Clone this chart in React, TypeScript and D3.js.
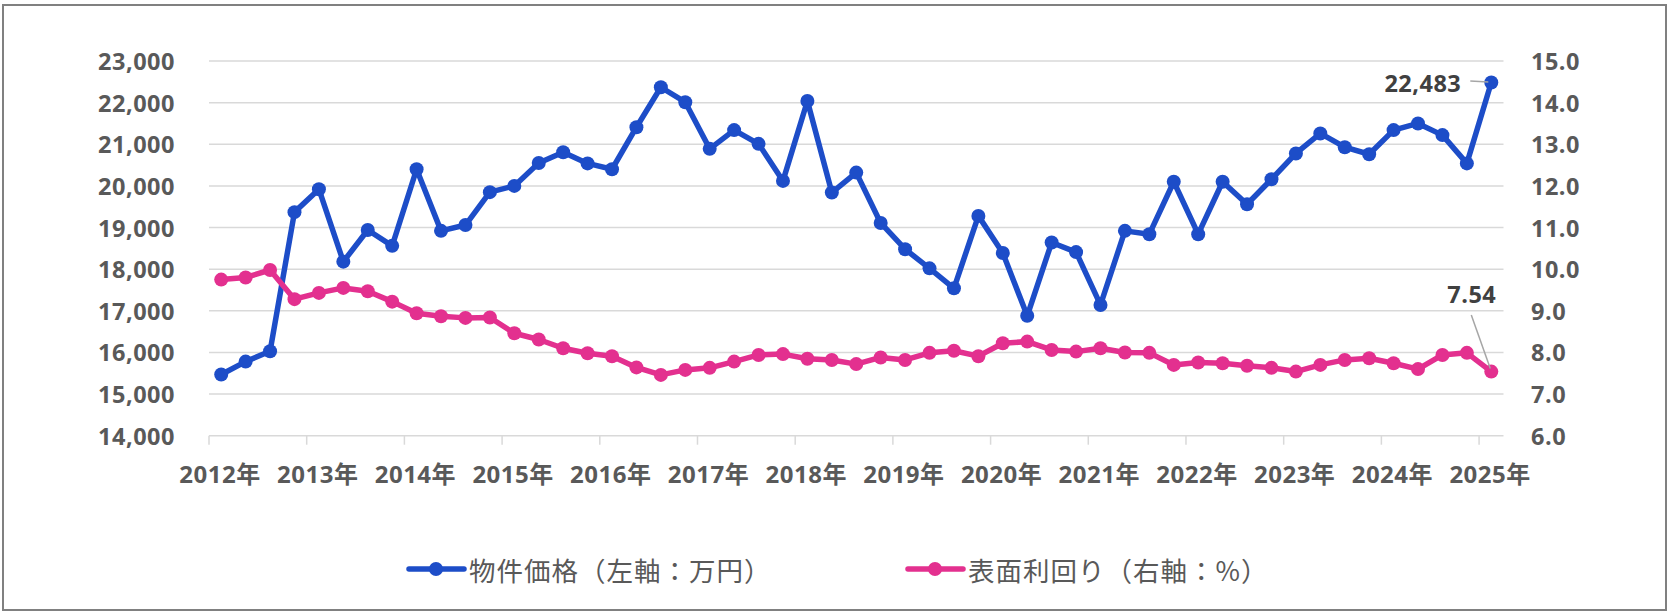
import React from "react";
import * as d3 from "d3";

const quarters = [
  "2012-02", "2012-05", "2012-08", "2012-11",
  "2013-02", "2013-05", "2013-08", "2013-11",
  "2014-02", "2014-05", "2014-08", "2014-11",
  "2015-02", "2015-05", "2015-08", "2015-11",
  "2016-02", "2016-05", "2016-08", "2016-11",
  "2017-02", "2017-05", "2017-08", "2017-11",
  "2018-02", "2018-05", "2018-08", "2018-11",
  "2019-02", "2019-05", "2019-08", "2019-11",
  "2020-02", "2020-05", "2020-08", "2020-11",
  "2021-02", "2021-05", "2021-08", "2021-11",
  "2022-02", "2022-05", "2022-08", "2022-11",
  "2023-02", "2023-05", "2023-08", "2023-11",
  "2024-02", "2024-05", "2024-08", "2024-11",
  "2025-02",
];

const priceValues = [
  15470, 15780, 16030, 19370, 19920, 18180, 18940, 18560, 20400, 18920,
  19060, 19850, 20000, 20550, 20810, 20540, 20400, 21410, 22370, 22010,
  20890, 21340, 21010, 20120, 22040, 19840, 20320, 19110, 18480, 18020,
  17540, 19280, 18390, 16880, 18640, 18410, 17140, 18920, 18840, 20100,
  18840, 20100, 19560, 20160, 20780, 21260, 20930, 20760, 21340, 21500,
  21220, 20540, 22483,
];

const yieldValues = [
  9.75, 9.8, 9.98, 9.28, 9.43, 9.55, 9.47, 9.22, 8.94, 8.87,
  8.83, 8.84, 8.46, 8.31, 8.1, 7.98, 7.91, 7.64, 7.46, 7.58,
  7.63, 7.78, 7.94, 7.96, 7.85, 7.82, 7.72, 7.88, 7.82, 7.99,
  8.04, 7.91, 8.22, 8.26, 8.06, 8.02, 8.1, 8.0, 7.99, 7.7,
  7.76, 7.74, 7.68, 7.63, 7.54, 7.7, 7.82, 7.86, 7.74, 7.6,
  7.94, 7.99, 7.54,
];

const yearTicks = [2012, 2013, 2014, 2015, 2016, 2017, 2018, 2019, 2020, 2021, 2022, 2023, 2024, 2025];
const leftTicks = [14000, 15000, 16000, 17000, 18000, 19000, 20000, 21000, 22000, 23000];
const rightTicks = [6, 7, 8, 9, 10, 11, 12, 13, 14, 15];
const seriesNames = ["物件価格（左軸：万円）", "表面利回り（右軸：%）"];
const seriesColors = ["#1D4DC8", "#E3308F"];

const W = 1670;
const H = 614;
const PLOT_L = 209;
const PLOT_R = 1503.5;
const PLOT_T = 61;
const PLOT_B = 435.7;

const AXIS_FONT = "'Open Sans', 'Noto Sans CJK JP', sans-serif";
const CJK_FONT = "'Noto Sans CJK JP', sans-serif";

export default function App() {
  const x = d3.scaleLinear().domain([2012, 2025.25]).range([PLOT_L, PLOT_R]);
  const yL = d3.scaleLinear().domain([14000, 23000]).range([PLOT_B, PLOT_T]);
  const yR = d3.scaleLinear().domain([6, 15]).range([PLOT_B, PLOT_T]);

  const xs = quarters.map((q) => {
    const [yy, mm] = q.split("-").map(Number);
    return yy + (mm - 0.5) / 12;
  });

  const priceLine = d3
    .line<number>()
    .x((_, i) => x(xs[i]))
    .y((d) => yL(d));
  const yieldLine = d3
    .line<number>()
    .x((_, i) => x(xs[i]))
    .y((d) => yR(d));

  const lastI = quarters.length - 1;
  const lastPx = x(xs[lastI]);
  const lastPriceY = yL(priceValues[lastI]);
  const lastYieldY = yR(yieldValues[lastI]);

  const fmtL = d3.format(",");
  const fmtR = d3.format(".1f");

  const labelStyle = {
    fontFamily: AXIS_FONT,
    fontWeight: 700,
    fontSize: 23.5,
    fill: "#595959",
    letterSpacing: "0.5px",
  } as React.CSSProperties;

  return (
    <svg
      width={W}
      height={H}
      style={{ position: "absolute", left: 0, top: 0, background: "#fff" }}
    >
      <rect x={0} y={0} width={W} height={H} fill="#fff" />
      <rect x={3} y={5} width={1663} height={605} fill="none" stroke="#808080" strokeWidth={2} />

      {/* gridlines */}
      {leftTicks.map((t) => (
        <line key={t} x1={PLOT_L} x2={PLOT_R} y1={yL(t)} y2={yL(t)} stroke="#D9D9D9" strokeWidth={1.5} />
      ))}
      {/* x tick marks */}
      {yearTicks.map((yr) => (
        <line key={yr} x1={x(yr)} x2={x(yr)} y1={PLOT_B} y2={PLOT_B + 9} stroke="#D9D9D9" strokeWidth={1.5} />
      ))}

      {/* left axis labels */}
      {leftTicks.map((t) => (
        <text key={t} x={175} y={yL(t)} textAnchor="end" dominantBaseline="central" style={labelStyle}>
          {fmtL(t)}
        </text>
      ))}
      {/* right axis labels */}
      {rightTicks.map((t) => (
        <text key={t} x={1531} y={yR(t)} textAnchor="start" dominantBaseline="central" style={labelStyle}>
          {fmtR(t)}
        </text>
      ))}
      {/* x labels */}
      {yearTicks.map((yr) => (
        <text key={yr} x={x(yr) + 11} y={473} textAnchor="middle" dominantBaseline="central" style={{ ...labelStyle, fontSize: 24 }}>
          {yr}年
        </text>
      ))}

      {/* price series */}
      <path d={priceLine(priceValues) || ""} fill="none" stroke={seriesColors[0]} strokeWidth={5.5} strokeLinejoin="round" />
      {priceValues.map((v, i) => (
        <circle key={i} cx={x(xs[i])} cy={yL(v)} r={7} fill={seriesColors[0]} />
      ))}

      {/* yield series */}
      <path d={yieldLine(yieldValues) || ""} fill="none" stroke={seriesColors[1]} strokeWidth={5.5} strokeLinejoin="round" />
      {yieldValues.map((v, i) => (
        <circle key={i} cx={x(xs[i])} cy={yR(v)} r={7} fill={seriesColors[1]} />
      ))}

      {/* annotations */}
      <line x1={lastPx - 21} x2={lastPx - 3} y1={lastPriceY - 1.5} y2={lastPriceY - 0.5} stroke="#A6A6A6" strokeWidth={1.5} />
      <text x={lastPx - 30} y={lastPriceY} textAnchor="end" dominantBaseline="central" style={{ ...labelStyle, fill: "#404040" }}>
        {fmtL(priceValues[lastI])}
      </text>
      <line x1={lastPx - 20} x2={lastPx - 1} y1={315} y2={lastYieldY - 3} stroke="#A6A6A6" strokeWidth={1.5} />
      <text x={lastPx + 5} y={lastYieldY - 78} textAnchor="end" dominantBaseline="central" style={{ ...labelStyle, fill: "#404040" }}>
        {yieldValues[lastI].toFixed(2)}
      </text>

      {/* legend */}
      {seriesNames.map((name, i) => {
        const lx = i === 0 ? 409 : 908;
        const ly = 569;
        return (
          <g key={name}>
            <line x1={lx} x2={lx + 55} y1={ly} y2={ly} stroke={seriesColors[i]} strokeWidth={5.5} strokeLinecap="round" />
            <circle cx={lx + 27} cy={ly} r={7} fill={seriesColors[i]} />
            <text
              x={lx + 60}
              y={ly}
              dominantBaseline="central"
              style={{ fontFamily: CJK_FONT, fontSize: 26.5, fill: "#595959", letterSpacing: "1px" }}
            >
              {name}
            </text>
          </g>
        );
      })}
    </svg>
  );
}
